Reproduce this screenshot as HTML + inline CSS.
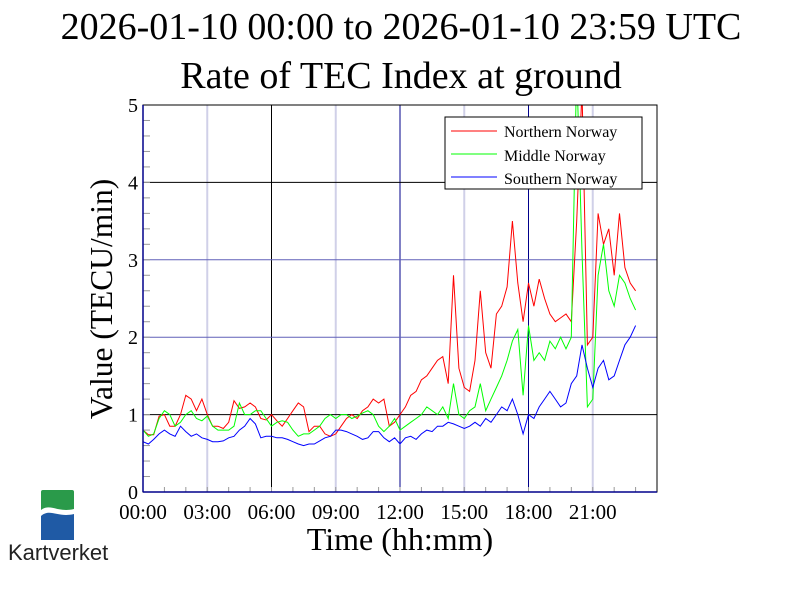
<!DOCTYPE html>
<html><head><meta charset="utf-8"><style>
body{margin:0;background:#fff;width:800px;height:600px;overflow:hidden;font-family:"Liberation Serif",serif}
svg{display:block}
</style></head><body>
<svg id="c" width="800" height="600" xmlns="http://www.w3.org/2000/svg">
<text x="401" y="39" font-size="38" text-anchor="middle" font-family="Liberation Serif">2026-01-10 00:00 to 2026-01-10 23:59 UTC</text>
<text x="401" y="88" font-size="38" text-anchor="middle" font-family="Liberation Serif">Rate of TEC Index at ground</text>
<text transform="translate(112,299) rotate(-90)" font-size="31.5" text-anchor="middle" font-family="Liberation Serif">Value (TECU/min)</text>
<text x="400" y="550" font-size="32" text-anchor="middle" font-family="Liberation Serif">Time (hh:mm)</text>
<g id="grid"></g><g id="series"></g><g id="axes"></g>
<g>
<rect x="445" y="117" width="197" height="72" fill="#fff" stroke="#000" stroke-width="1"/>
<line x1="451" y1="131" x2="497" y2="131" stroke="#f00"/><text x="504" y="137" font-size="16">Northern Norway</text>
<line x1="451" y1="154" x2="497" y2="154" stroke="#0f0"/><text x="504" y="161" font-size="16">Middle Norway</text>
<line x1="451" y1="177" x2="497" y2="177" stroke="#00f"/><text x="504" y="184" font-size="16">Southern Norway</text>
</g>
<g>
<rect x="41" y="490" width="33" height="50" rx="2" fill="#2a9a4a"/>
<path d="M41 513 C50 505,58 515,74 512 L74 540 L41 540 Z" fill="#1f5aa5"/>
<path d="M41 510 C50 503,58 513,74 509 L74 514 C58 518,50 508,41 516 Z" fill="#fff"/>
<text x="8" y="560" font-size="22" font-family="Liberation Sans" fill="#222">Kartverket</text>
</g>
</svg>
<script>
const xTicks=["00:00","03:00","06:00","09:00","12:00","15:00","18:00","21:00"];
const yTicks=[0,1,2,3,4,5];
const stepMinutes=15;
const northern=[0.8,0.74,0.74,0.98,1.0,0.85,0.85,1.0,1.25,1.2,1.05,1.2,1.0,0.85,0.85,0.82,0.9,1.18,1.08,1.1,1.15,1.1,0.95,0.93,1.0,0.92,0.85,0.95,1.05,1.15,1.1,0.78,0.85,0.85,0.75,0.72,0.75,0.85,0.95,1.0,0.95,1.05,1.1,1.2,1.15,1.2,0.85,0.9,
1.0,1.1,1.25,1.3,1.45,1.5,1.6,1.7,1.75,1.4,2.8,1.6,1.35,1.3,1.7,2.6,1.8,1.6,2.3,2.4,2.65,3.5,2.7,2.2,2.7,2.4,2.75,2.5,2.3,2.2,2.25,2.3,2.2,3.5,5.2,1.9,2.0,3.6,3.2,3.4,2.8,3.6,2.9,2.7,2.6];
const middle=[0.8,0.72,0.75,0.95,1.05,1.0,0.85,0.9,1.0,1.05,0.95,0.92,0.98,0.85,0.8,0.8,0.8,0.85,1.15,1.0,1.0,1.05,1.05,0.95,0.85,0.9,0.92,0.9,0.8,0.72,0.75,0.75,0.8,0.85,0.95,1.0,0.95,1.0,1.0,0.95,0.98,1.02,1.05,1.0,0.85,0.78,0.85,0.95,
0.8,0.85,0.9,0.95,1.0,1.1,1.05,1.0,1.1,0.95,1.4,1.0,0.95,1.05,1.1,1.4,1.05,1.2,1.35,1.5,1.7,1.95,2.1,1.25,2.15,1.7,1.8,1.7,1.95,1.85,2.0,1.85,2.0,5.5,3.1,1.1,1.2,2.8,3.2,2.6,2.4,2.8,2.7,2.5,2.35];
const southern=[0.65,0.62,0.68,0.75,0.8,0.75,0.72,0.85,0.78,0.72,0.75,0.7,0.68,0.65,0.65,0.66,0.7,0.72,0.8,0.85,0.95,0.88,0.7,0.72,0.72,0.7,0.7,0.68,0.65,0.62,0.6,0.62,0.62,0.66,0.7,0.72,0.8,0.8,0.78,0.75,0.72,0.68,0.7,0.78,0.78,0.7,0.65,0.7,
0.62,0.7,0.72,0.68,0.75,0.8,0.78,0.85,0.85,0.9,0.88,0.85,0.82,0.85,0.9,0.85,0.95,0.9,1.0,1.1,1.05,1.2,1.0,0.75,1.0,0.95,1.1,1.2,1.3,1.2,1.1,1.15,1.4,1.5,1.9,1.6,1.35,1.6,1.7,1.45,1.5,1.7,1.9,2.0,2.15];
const NS="http://www.w3.org/2000/svg";
const L=143,R=657,T=105,B=492;
const xs=m=>L+(R-L)*m/1440;
const ys=v=>B-(B-T)*v/5;
function mk(tag,attrs,parent){const e=document.createElementNS(NS,tag);for(const k in attrs)e.setAttribute(k,attrs[k]);parent.appendChild(e);return e;}
const grid=document.getElementById('grid'),axes=document.getElementById('axes'),ser=document.getElementById('series');
xTicks.forEach((t,i)=>{const x=xs(i*180);
 const col=(i%2===1)?'#d0d0e8':(i===2?'#000':'#00008b');
 if(i>0){const g=mk('line',{x1:x,y1:T,x2:x,y2:B,stroke:col,'stroke-width':i%2?2:1},grid);
 
 }
 const tx=mk('text',{x:x,y:519,'font-size':21,'text-anchor':'middle'},axes);tx.textContent=t;
 
 
});
yTicks.forEach(v=>{const y=ys(v);
 if(v>0&&v<5){const col=(v===1||v===4)?'#000':'#6060b8';
 const g=mk('line',{x1:L,y1:y,x2:R,y2:y,stroke:col},grid);
 
 }
 const tx=mk('text',{x:133,y:y+7,'font-size':20,'text-anchor':'middle'},axes);tx.textContent=v;
 
 
});
for(let v=0.2;v<5;v+=0.2){const y=ys(v);mk('line',{x1:L,y1:y,x2:L+7,y2:y,stroke:'#999'},axes);}
for(let m=60;m<1440;m+=60){mk('line',{x1:xs(m),y1:B,x2:xs(m),y2:B-5,stroke:'#999'},axes);}
const frame=mk('rect',{x:L,y:T,width:R-L,height:B-T,fill:'none',stroke:'#000'},axes);


mk('line',{x1:L,y1:T,x2:L,y2:B,stroke:'#00008b','stroke-width':1.5},axes);
mk('line',{x1:L,y1:B,x2:R,y2:B,stroke:'#00008b','stroke-width':1.5},axes);
const cp=mk('clipPath',{id:'clip'},ser);mk('rect',{x:L,y:T,width:R-L,height:B-T},cp);
[[northern,'#f00','northern-norway-line'],[middle,'#0f0','middle-norway-line'],[southern,'#00f','southern-norway-line']].forEach(([d,c,n])=>{
 const pts=d.map((v,i)=>xs(i*stepMinutes).toFixed(1)+','+ys(v).toFixed(1)).join(' ');
 const p=mk('polyline',{points:pts,fill:'none',stroke:c,'stroke-width':1,'clip-path':'url(#clip)'},ser);
 
 
});
</script>
</body></html>
